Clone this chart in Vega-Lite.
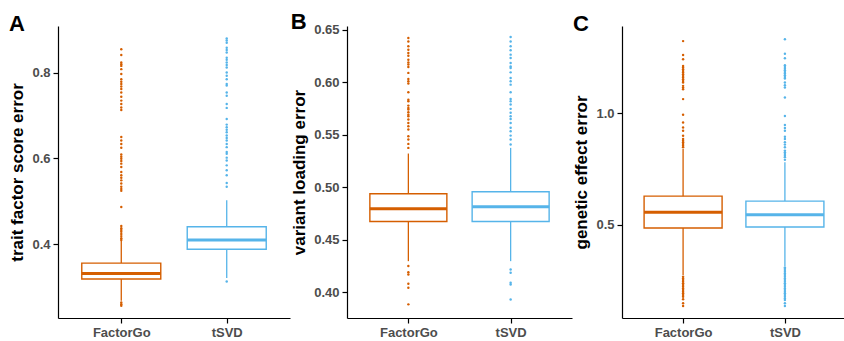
{
  "$schema": "https://vega.github.io/schema/vega-lite/v6.json",
  "padding": {"left": 8, "top": 10, "right": 0, "bottom": 0},
  "spacing": 0,
  "datasets": {
    "boxes": [
      {"panel": "A", "method": "FactorGo", "lower": 0.268, "q1": 0.3188, "median": 0.3318, "q3": 0.356, "upper": 0.408},
      {"panel": "A", "method": "tSVD", "lower": 0.321, "q1": 0.3884, "median": 0.410, "q3": 0.4409, "upper": 0.5028},
      {"panel": "B", "method": "FactorGo", "lower": 0.4295, "q1": 0.4673, "median": 0.4794, "q3": 0.4937, "upper": 0.5321},
      {"panel": "B", "method": "tSVD", "lower": 0.4295, "q1": 0.4673, "median": 0.4813, "q3": 0.4956, "upper": 0.5375},
      {"panel": "C", "method": "FactorGo", "lower": 0.273, "q1": 0.4848, "median": 0.555, "q3": 0.628, "upper": 0.8404},
      {"panel": "C", "method": "tSVD", "lower": 0.3133, "q1": 0.4893, "median": 0.5448, "q3": 0.6057, "upper": 0.7803}
    ],
    "outliers": [
      {"panel": "A", "method": "FactorGo", "value": 0.855},
      {"panel": "A", "method": "FactorGo", "value": 0.8415},
      {"panel": "A", "method": "FactorGo", "value": 0.8237},
      {"panel": "A", "method": "FactorGo", "value": 0.820},
      {"panel": "A", "method": "FactorGo", "value": 0.816},
      {"panel": "A", "method": "FactorGo", "value": 0.8084},
      {"panel": "A", "method": "FactorGo", "value": 0.797},
      {"panel": "A", "method": "FactorGo", "value": 0.785},
      {"panel": "A", "method": "FactorGo", "value": 0.779},
      {"panel": "A", "method": "FactorGo", "value": 0.7735},
      {"panel": "A", "method": "FactorGo", "value": 0.768},
      {"panel": "A", "method": "FactorGo", "value": 0.762},
      {"panel": "A", "method": "FactorGo", "value": 0.754},
      {"panel": "A", "method": "FactorGo", "value": 0.744},
      {"panel": "A", "method": "FactorGo", "value": 0.735},
      {"panel": "A", "method": "FactorGo", "value": 0.727},
      {"panel": "A", "method": "FactorGo", "value": 0.719},
      {"panel": "A", "method": "FactorGo", "value": 0.713},
      {"panel": "A", "method": "FactorGo", "value": 0.650},
      {"panel": "A", "method": "FactorGo", "value": 0.642},
      {"panel": "A", "method": "FactorGo", "value": 0.634},
      {"panel": "A", "method": "FactorGo", "value": 0.625},
      {"panel": "A", "method": "FactorGo", "value": 0.6095},
      {"panel": "A", "method": "FactorGo", "value": 0.604},
      {"panel": "A", "method": "FactorGo", "value": 0.5995},
      {"panel": "A", "method": "FactorGo", "value": 0.594},
      {"panel": "A", "method": "FactorGo", "value": 0.588},
      {"panel": "A", "method": "FactorGo", "value": 0.580},
      {"panel": "A", "method": "FactorGo", "value": 0.5685},
      {"panel": "A", "method": "FactorGo", "value": 0.561},
      {"panel": "A", "method": "FactorGo", "value": 0.555},
      {"panel": "A", "method": "FactorGo", "value": 0.549},
      {"panel": "A", "method": "FactorGo", "value": 0.5415},
      {"panel": "A", "method": "FactorGo", "value": 0.534},
      {"panel": "A", "method": "FactorGo", "value": 0.529},
      {"panel": "A", "method": "FactorGo", "value": 0.5245},
      {"panel": "A", "method": "FactorGo", "value": 0.487},
      {"panel": "A", "method": "FactorGo", "value": 0.4425},
      {"panel": "A", "method": "FactorGo", "value": 0.4375},
      {"panel": "A", "method": "FactorGo", "value": 0.433},
      {"panel": "A", "method": "FactorGo", "value": 0.429},
      {"panel": "A", "method": "FactorGo", "value": 0.424},
      {"panel": "A", "method": "FactorGo", "value": 0.419},
      {"panel": "A", "method": "FactorGo", "value": 0.414},
      {"panel": "A", "method": "FactorGo", "value": 0.410},
      {"panel": "A", "method": "FactorGo", "value": 0.264},
      {"panel": "A", "method": "FactorGo", "value": 0.260},
      {"panel": "A", "method": "FactorGo", "value": 0.2568},
      {"panel": "A", "method": "tSVD", "value": 0.880},
      {"panel": "A", "method": "tSVD", "value": 0.875},
      {"panel": "A", "method": "tSVD", "value": 0.870},
      {"panel": "A", "method": "tSVD", "value": 0.8585},
      {"panel": "A", "method": "tSVD", "value": 0.853},
      {"panel": "A", "method": "tSVD", "value": 0.847},
      {"panel": "A", "method": "tSVD", "value": 0.835},
      {"panel": "A", "method": "tSVD", "value": 0.830},
      {"panel": "A", "method": "tSVD", "value": 0.8237},
      {"panel": "A", "method": "tSVD", "value": 0.818},
      {"panel": "A", "method": "tSVD", "value": 0.812},
      {"panel": "A", "method": "tSVD", "value": 0.8005},
      {"panel": "A", "method": "tSVD", "value": 0.793},
      {"panel": "A", "method": "tSVD", "value": 0.785},
      {"panel": "A", "method": "tSVD", "value": 0.7735},
      {"panel": "A", "method": "tSVD", "value": 0.770},
      {"panel": "A", "method": "tSVD", "value": 0.754},
      {"panel": "A", "method": "tSVD", "value": 0.7465},
      {"panel": "A", "method": "tSVD", "value": 0.727},
      {"panel": "A", "method": "tSVD", "value": 0.718},
      {"panel": "A", "method": "tSVD", "value": 0.692},
      {"panel": "A", "method": "tSVD", "value": 0.679},
      {"panel": "A", "method": "tSVD", "value": 0.673},
      {"panel": "A", "method": "tSVD", "value": 0.667},
      {"panel": "A", "method": "tSVD", "value": 0.661},
      {"panel": "A", "method": "tSVD", "value": 0.6535},
      {"panel": "A", "method": "tSVD", "value": 0.648},
      {"panel": "A", "method": "tSVD", "value": 0.642},
      {"panel": "A", "method": "tSVD", "value": 0.634},
      {"panel": "A", "method": "tSVD", "value": 0.6265},
      {"panel": "A", "method": "tSVD", "value": 0.615},
      {"panel": "A", "method": "tSVD", "value": 0.611},
      {"panel": "A", "method": "tSVD", "value": 0.602},
      {"panel": "A", "method": "tSVD", "value": 0.5955},
      {"panel": "A", "method": "tSVD", "value": 0.584},
      {"panel": "A", "method": "tSVD", "value": 0.5725},
      {"panel": "A", "method": "tSVD", "value": 0.561},
      {"panel": "A", "method": "tSVD", "value": 0.543},
      {"panel": "A", "method": "tSVD", "value": 0.534},
      {"panel": "A", "method": "tSVD", "value": 0.3133},
      {"panel": "B", "method": "FactorGo", "value": 0.6423},
      {"panel": "B", "method": "FactorGo", "value": 0.639},
      {"panel": "B", "method": "FactorGo", "value": 0.6343},
      {"panel": "B", "method": "FactorGo", "value": 0.6311},
      {"panel": "B", "method": "FactorGo", "value": 0.628},
      {"panel": "B", "method": "FactorGo", "value": 0.6254},
      {"panel": "B", "method": "FactorGo", "value": 0.6216},
      {"panel": "B", "method": "FactorGo", "value": 0.619},
      {"panel": "B", "method": "FactorGo", "value": 0.6169},
      {"panel": "B", "method": "FactorGo", "value": 0.6147},
      {"panel": "B", "method": "FactorGo", "value": 0.609},
      {"panel": "B", "method": "FactorGo", "value": 0.6032},
      {"panel": "B", "method": "FactorGo", "value": 0.601},
      {"panel": "B", "method": "FactorGo", "value": 0.5988},
      {"panel": "B", "method": "FactorGo", "value": 0.5905},
      {"panel": "B", "method": "FactorGo", "value": 0.5835},
      {"panel": "B", "method": "FactorGo", "value": 0.5819},
      {"panel": "B", "method": "FactorGo", "value": 0.5778},
      {"panel": "B", "method": "FactorGo", "value": 0.5756},
      {"panel": "B", "method": "FactorGo", "value": 0.574},
      {"panel": "B", "method": "FactorGo", "value": 0.5714},
      {"panel": "B", "method": "FactorGo", "value": 0.5692},
      {"panel": "B", "method": "FactorGo", "value": 0.5676},
      {"panel": "B", "method": "FactorGo", "value": 0.5645},
      {"panel": "B", "method": "FactorGo", "value": 0.5613},
      {"panel": "B", "method": "FactorGo", "value": 0.5581},
      {"panel": "B", "method": "FactorGo", "value": 0.555},
      {"panel": "B", "method": "FactorGo", "value": 0.5486},
      {"panel": "B", "method": "FactorGo", "value": 0.5454},
      {"panel": "B", "method": "FactorGo", "value": 0.5413},
      {"panel": "B", "method": "FactorGo", "value": 0.5375},
      {"panel": "B", "method": "FactorGo", "value": 0.4248},
      {"panel": "B", "method": "FactorGo", "value": 0.419},
      {"panel": "B", "method": "FactorGo", "value": 0.4168},
      {"panel": "B", "method": "FactorGo", "value": 0.408},
      {"panel": "B", "method": "FactorGo", "value": 0.4042},
      {"panel": "B", "method": "FactorGo", "value": 0.3883},
      {"panel": "B", "method": "tSVD", "value": 0.6432},
      {"panel": "B", "method": "tSVD", "value": 0.639},
      {"panel": "B", "method": "tSVD", "value": 0.6343},
      {"panel": "B", "method": "tSVD", "value": 0.6305},
      {"panel": "B", "method": "tSVD", "value": 0.6264},
      {"panel": "B", "method": "tSVD", "value": 0.6232},
      {"panel": "B", "method": "tSVD", "value": 0.6185},
      {"panel": "B", "method": "tSVD", "value": 0.6152},
      {"panel": "B", "method": "tSVD", "value": 0.6137},
      {"panel": "B", "method": "tSVD", "value": 0.6095},
      {"panel": "B", "method": "tSVD", "value": 0.6042},
      {"panel": "B", "method": "tSVD", "value": 0.601},
      {"panel": "B", "method": "tSVD", "value": 0.5978},
      {"panel": "B", "method": "tSVD", "value": 0.5905},
      {"panel": "B", "method": "tSVD", "value": 0.5842},
      {"panel": "B", "method": "tSVD", "value": 0.5819},
      {"panel": "B", "method": "tSVD", "value": 0.5788},
      {"panel": "B", "method": "tSVD", "value": 0.5747},
      {"panel": "B", "method": "tSVD", "value": 0.5709},
      {"panel": "B", "method": "tSVD", "value": 0.5676},
      {"panel": "B", "method": "tSVD", "value": 0.5651},
      {"panel": "B", "method": "tSVD", "value": 0.5613},
      {"panel": "B", "method": "tSVD", "value": 0.5566},
      {"panel": "B", "method": "tSVD", "value": 0.5533},
      {"panel": "B", "method": "tSVD", "value": 0.5492},
      {"panel": "B", "method": "tSVD", "value": 0.5454},
      {"panel": "B", "method": "tSVD", "value": 0.5407},
      {"panel": "B", "method": "tSVD", "value": 0.4216},
      {"panel": "B", "method": "tSVD", "value": 0.4185},
      {"panel": "B", "method": "tSVD", "value": 0.409},
      {"panel": "B", "method": "tSVD", "value": 0.4073},
      {"panel": "B", "method": "tSVD", "value": 0.393},
      {"panel": "C", "method": "FactorGo", "value": 1.325},
      {"panel": "C", "method": "FactorGo", "value": 1.2627},
      {"panel": "C", "method": "FactorGo", "value": 1.2434},
      {"panel": "C", "method": "FactorGo", "value": 1.2134},
      {"panel": "C", "method": "FactorGo", "value": 1.206},
      {"panel": "C", "method": "FactorGo", "value": 1.1986},
      {"panel": "C", "method": "FactorGo", "value": 1.191},
      {"panel": "C", "method": "FactorGo", "value": 1.1834},
      {"panel": "C", "method": "FactorGo", "value": 1.176},
      {"panel": "C", "method": "FactorGo", "value": 1.1686},
      {"panel": "C", "method": "FactorGo", "value": 1.161},
      {"panel": "C", "method": "FactorGo", "value": 1.1538},
      {"panel": "C", "method": "FactorGo", "value": 1.146},
      {"panel": "C", "method": "FactorGo", "value": 1.1386},
      {"panel": "C", "method": "FactorGo", "value": 1.1238},
      {"panel": "C", "method": "FactorGo", "value": 1.116},
      {"panel": "C", "method": "FactorGo", "value": 1.109},
      {"panel": "C", "method": "FactorGo", "value": 1.0643},
      {"panel": "C", "method": "FactorGo", "value": 0.9939},
      {"panel": "C", "method": "FactorGo", "value": 0.9595},
      {"panel": "C", "method": "FactorGo", "value": 0.937},
      {"panel": "C", "method": "FactorGo", "value": 0.9223},
      {"panel": "C", "method": "FactorGo", "value": 0.8999},
      {"panel": "C", "method": "FactorGo", "value": 0.885},
      {"panel": "C", "method": "FactorGo", "value": 0.8775},
      {"panel": "C", "method": "FactorGo", "value": 0.870},
      {"panel": "C", "method": "FactorGo", "value": 0.8627},
      {"panel": "C", "method": "FactorGo", "value": 0.855},
      {"panel": "C", "method": "FactorGo", "value": 0.8475},
      {"panel": "C", "method": "FactorGo", "value": 0.2653},
      {"panel": "C", "method": "FactorGo", "value": 0.258},
      {"panel": "C", "method": "FactorGo", "value": 0.2506},
      {"panel": "C", "method": "FactorGo", "value": 0.243},
      {"panel": "C", "method": "FactorGo", "value": 0.2358},
      {"panel": "C", "method": "FactorGo", "value": 0.228},
      {"panel": "C", "method": "FactorGo", "value": 0.2206},
      {"panel": "C", "method": "FactorGo", "value": 0.213},
      {"panel": "C", "method": "FactorGo", "value": 0.2058},
      {"panel": "C", "method": "FactorGo", "value": 0.198},
      {"panel": "C", "method": "FactorGo", "value": 0.191},
      {"panel": "C", "method": "FactorGo", "value": 0.183},
      {"panel": "C", "method": "FactorGo", "value": 0.1758},
      {"panel": "C", "method": "FactorGo", "value": 0.1641},
      {"panel": "C", "method": "FactorGo", "value": 0.1462},
      {"panel": "C", "method": "FactorGo", "value": 0.1341},
      {"panel": "C", "method": "tSVD", "value": 1.333},
      {"panel": "C", "method": "tSVD", "value": 1.2685},
      {"panel": "C", "method": "tSVD", "value": 1.2479},
      {"panel": "C", "method": "tSVD", "value": 1.2165},
      {"panel": "C", "method": "tSVD", "value": 1.209},
      {"panel": "C", "method": "tSVD", "value": 1.2013},
      {"panel": "C", "method": "tSVD", "value": 1.194},
      {"panel": "C", "method": "tSVD", "value": 1.1865},
      {"panel": "C", "method": "tSVD", "value": 1.179},
      {"panel": "C", "method": "tSVD", "value": 1.1717},
      {"panel": "C", "method": "tSVD", "value": 1.164},
      {"panel": "C", "method": "tSVD", "value": 1.1565},
      {"panel": "C", "method": "tSVD", "value": 1.1386},
      {"panel": "C", "method": "tSVD", "value": 1.127},
      {"panel": "C", "method": "tSVD", "value": 1.1162},
      {"panel": "C", "method": "tSVD", "value": 1.0714},
      {"panel": "C", "method": "tSVD", "value": 0.9881},
      {"panel": "C", "method": "tSVD", "value": 0.9478},
      {"panel": "C", "method": "tSVD", "value": 0.9344},
      {"panel": "C", "method": "tSVD", "value": 0.9223},
      {"panel": "C", "method": "tSVD", "value": 0.8954},
      {"panel": "C", "method": "tSVD", "value": 0.885},
      {"panel": "C", "method": "tSVD", "value": 0.8699},
      {"panel": "C", "method": "tSVD", "value": 0.8596},
      {"panel": "C", "method": "tSVD", "value": 0.8475},
      {"panel": "C", "method": "tSVD", "value": 0.8327},
      {"panel": "C", "method": "tSVD", "value": 0.825},
      {"panel": "C", "method": "tSVD", "value": 0.818},
      {"panel": "C", "method": "tSVD", "value": 0.810},
      {"panel": "C", "method": "tSVD", "value": 0.8027},
      {"panel": "C", "method": "tSVD", "value": 0.7911},
      {"panel": "C", "method": "tSVD", "value": 0.3074},
      {"panel": "C", "method": "tSVD", "value": 0.3013},
      {"panel": "C", "method": "tSVD", "value": 0.2953},
      {"panel": "C", "method": "tSVD", "value": 0.288},
      {"panel": "C", "method": "tSVD", "value": 0.2806},
      {"panel": "C", "method": "tSVD", "value": 0.273},
      {"panel": "C", "method": "tSVD", "value": 0.2653},
      {"panel": "C", "method": "tSVD", "value": 0.258},
      {"panel": "C", "method": "tSVD", "value": 0.2506},
      {"panel": "C", "method": "tSVD", "value": 0.243},
      {"panel": "C", "method": "tSVD", "value": 0.2358},
      {"panel": "C", "method": "tSVD", "value": 0.228},
      {"panel": "C", "method": "tSVD", "value": 0.2206},
      {"panel": "C", "method": "tSVD", "value": 0.213},
      {"panel": "C", "method": "tSVD", "value": 0.2058},
      {"panel": "C", "method": "tSVD", "value": 0.198},
      {"panel": "C", "method": "tSVD", "value": 0.191},
      {"panel": "C", "method": "tSVD", "value": 0.183},
      {"panel": "C", "method": "tSVD", "value": 0.1758},
      {"panel": "C", "method": "tSVD", "value": 0.168},
      {"panel": "C", "method": "tSVD", "value": 0.161},
      {"panel": "C", "method": "tSVD", "value": 0.1462},
      {"panel": "C", "method": "tSVD", "value": 0.1341}
    ]
  },
  "hconcat": [
    {
      "width": 232, "height": 292,
      "title": {"text": "A"},
      "encoding": {
        "x": {"field": "method", "type": "nominal", "scale": {"type": "point", "padding": 0.6, "domain": ["FactorGo", "tSVD"]}, "title": null, "axis": {"labelAngle": 0}},
        "color": {"field": "method", "type": "nominal", "scale": {"domain": ["FactorGo", "tSVD"], "range": ["#D55E00", "#56B4E9"]}, "legend": null}
      },
      "layer": [
        {"data": {"name": "boxes"}, "transform": [{"filter": "datum.panel === 'A'"}], "mark": {"type": "rule", "strokeWidth": 1.3},
         "encoding": {"y": {"field": "lower", "type": "quantitative", "scale": {"domain": [0.228, 0.909], "nice": false, "zero": false}, "axis": {"values": [0.4, 0.6, 0.8], "format": ".1f"}, "title": "trait factor score error"}, "y2": {"field": "upper"}}},
        {"data": {"name": "boxes"}, "transform": [{"filter": "datum.panel === 'A'"}], "mark": {"type": "bar", "width": 79, "fill": "white", "strokeWidth": 1.4},
         "encoding": {"y": {"field": "q1", "type": "quantitative"}, "y2": {"field": "q3"}, "stroke": {"field": "method", "type": "nominal", "scale": {"domain": ["FactorGo", "tSVD"], "range": ["#D55E00", "#56B4E9"]}, "legend": null}}},
        {"data": {"name": "boxes"}, "transform": [{"filter": "datum.panel === 'A'"}], "mark": {"type": "tick", "size": 79, "thickness": 3, "opacity": 1},
         "encoding": {"y": {"field": "median", "type": "quantitative"}}},
        {"data": {"name": "outliers"}, "transform": [{"filter": "datum.panel === 'A'"}], "mark": {"type": "circle", "size": 6, "opacity": 1},
         "encoding": {"y": {"field": "value", "type": "quantitative"}}}
      ]
    },
    {
      "width": 225, "height": 292,
      "title": {"text": "B"},
      "encoding": {
        "x": {"field": "method", "type": "nominal", "scale": {"type": "point", "padding": 0.6, "domain": ["FactorGo", "tSVD"]}, "title": null, "axis": {"labelAngle": 0}},
        "color": {"field": "method", "type": "nominal", "scale": {"domain": ["FactorGo", "tSVD"], "range": ["#D55E00", "#56B4E9"]}, "legend": null}
      },
      "layer": [
        {"data": {"name": "boxes"}, "transform": [{"filter": "datum.panel === 'B'"}], "mark": {"type": "rule", "strokeWidth": 1.3},
         "encoding": {"y": {"field": "lower", "type": "quantitative", "scale": {"domain": [0.3753, 0.6537], "nice": false, "zero": false}, "axis": {"values": [0.4, 0.45, 0.5, 0.55, 0.6, 0.65], "format": ".2f"}, "title": "variant loading error"}, "y2": {"field": "upper"}}},
        {"data": {"name": "boxes"}, "transform": [{"filter": "datum.panel === 'B'"}], "mark": {"type": "bar", "width": 77, "fill": "white", "strokeWidth": 1.4},
         "encoding": {"y": {"field": "q1", "type": "quantitative"}, "y2": {"field": "q3"}, "stroke": {"field": "method", "type": "nominal", "scale": {"domain": ["FactorGo", "tSVD"], "range": ["#D55E00", "#56B4E9"]}, "legend": null}}},
        {"data": {"name": "boxes"}, "transform": [{"filter": "datum.panel === 'B'"}], "mark": {"type": "tick", "size": 77, "thickness": 3, "opacity": 1},
         "encoding": {"y": {"field": "median", "type": "quantitative"}}},
        {"data": {"name": "outliers"}, "transform": [{"filter": "datum.panel === 'B'"}], "mark": {"type": "circle", "size": 6, "opacity": 1},
         "encoding": {"y": {"field": "value", "type": "quantitative"}}}
      ]
    },
    {
      "width": 224, "height": 292,
      "title": {"text": "C"},
      "encoding": {
        "x": {"field": "method", "type": "nominal", "scale": {"type": "point", "padding": 0.6, "domain": ["FactorGo", "tSVD"]}, "title": null, "axis": {"labelAngle": 0}},
        "color": {"field": "method", "type": "nominal", "scale": {"domain": ["FactorGo", "tSVD"], "range": ["#D55E00", "#56B4E9"]}, "legend": null}
      },
      "layer": [
        {"data": {"name": "boxes"}, "transform": [{"filter": "datum.panel === 'C'"}], "mark": {"type": "rule", "strokeWidth": 1.3},
         "encoding": {"y": {"field": "lower", "type": "quantitative", "scale": {"domain": [0.080, 1.393], "nice": false, "zero": false}, "axis": {"values": [0.5, 1.0], "format": ".1f"}, "title": "genetic effect error"}, "y2": {"field": "upper"}}},
        {"data": {"name": "boxes"}, "transform": [{"filter": "datum.panel === 'C'"}], "mark": {"type": "bar", "width": 78, "fill": "white", "strokeWidth": 1.4},
         "encoding": {"y": {"field": "q1", "type": "quantitative"}, "y2": {"field": "q3"}, "stroke": {"field": "method", "type": "nominal", "scale": {"domain": ["FactorGo", "tSVD"], "range": ["#D55E00", "#56B4E9"]}, "legend": null}}},
        {"data": {"name": "boxes"}, "transform": [{"filter": "datum.panel === 'C'"}], "mark": {"type": "tick", "size": 78, "thickness": 3, "opacity": 1},
         "encoding": {"y": {"field": "median", "type": "quantitative"}}},
        {"data": {"name": "outliers"}, "transform": [{"filter": "datum.panel === 'C'"}], "mark": {"type": "circle", "size": 6, "opacity": 1},
         "encoding": {"y": {"field": "value", "type": "quantitative"}}}
      ]
    }
  ],
  "config": {
    "view": {"stroke": null},
    "font": "Liberation Sans",
    "axis": {
      "domainColor": "black", "tickColor": "black", "domainWidth": 1.2, "tickWidth": 1.2, "tickSize": 5,
      "labelFont": "Liberation Sans", "labelFontWeight": "bold", "labelColor": "#4D4D4D", "labelFontSize": 13, "labelPadding": 3,
      "titleFont": "Liberation Sans", "titleFontSize": 17, "titleFontWeight": "bold", "titleColor": "black", "titlePadding": 5,
      "grid": false
    },
    "title": {"fontSize": 22, "fontWeight": "bold", "font": "Liberation Sans", "color": "black", "anchor": "start", "frame": "bounds", "offset": -10}
  }
}
